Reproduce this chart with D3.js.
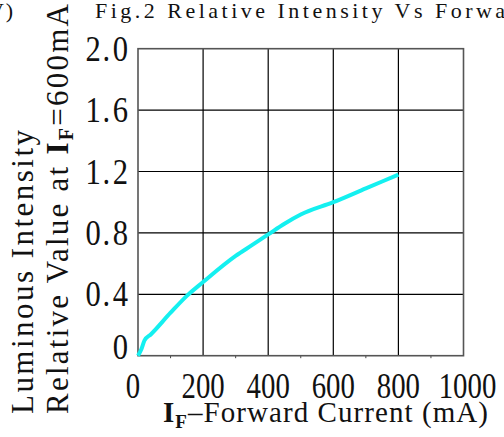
<!DOCTYPE html>
<html>
<head>
<meta charset="utf-8">
<script src="https://cdn.jsdelivr.net/npm/d3@7"></script>
<style>
  html, body { margin: 0; padding: 0; background: #fff; }
  svg { display: block; }
</style>
</head>
<body>
<div id="chart"></div>
<script>
// data
var current = [0, 10, 20, 40, 100, 150, 200, 300, 350, 400, 450, 500, 600, 700, 800];
var intensity = [0, 0.04, 0.1, 0.14, 0.28, 0.39, 0.48, 0.65, 0.72, 0.79, 0.86, 0.92, 1.0, 1.09, 1.18];
var xTicks = [0, 200, 400, 600, 800, 1000];
var xMinorTicks = [100, 300, 500, 700, 900];
var yTicks = [0, 0.4, 0.8, 1.2, 1.6, 2.0];
var yTickLabels = ["0", "0.4", "0.8", "1.2", "1.6", "2.0"];

var width = 504, height = 437;
var svg = d3.select("#chart").append("svg")
  .attr("width", width).attr("height", height);

var x = d3.scaleLinear().domain([0, 1000]).range([138, 463.5]);
var y = d3.scaleLinear().domain([0, 2]).range([355.7, 48.7]);

var serif = "'Liberation Serif', 'Times New Roman', serif";

// grid
var g = svg.append("g");
g.selectAll(".vgrid").data(xTicks.slice(1, -1)).enter().append("line")
  .attr("x1", d => x(d)).attr("x2", d => x(d))
  .attr("y1", y(0)).attr("y2", y(2))
  .attr("stroke", "#000").attr("stroke-width", 1.2);
g.selectAll(".hgrid").data(yTicks.slice(1, -1)).enter().append("line")
  .attr("x1", x(0)).attr("x2", x(1000))
  .attr("y1", d => y(d)).attr("y2", d => y(d))
  .attr("stroke", "#000").attr("stroke-width", 1.2);
g.selectAll(".minor").data(xMinorTicks).enter().append("line")
  .attr("x1", d => x(d)).attr("x2", d => x(d))
  .attr("y1", y(0)).attr("y2", y(0) + 2.5)
  .attr("stroke", "#444").attr("stroke-width", 1);
g.append("rect")
  .attr("x", x(0)).attr("y", y(2))
  .attr("width", x(1000) - x(0)).attr("height", y(0) - y(2))
  .attr("fill", "none").attr("stroke", "#555").attr("stroke-width", 1.6);

// curve
var line = d3.line()
  .x((d, i) => x(current[i]))
  .y(d => y(d))
  .curve(d3.curveMonotoneX);
svg.append("path")
  .datum(intensity)
  .attr("d", line)
  .attr("fill", "none")
  .attr("stroke", "#14f0f0")
  .attr("stroke-width", 4);

// tick labels, Times-like digits squeezed a little
function tickLabel(sel, anchor) {
  return sel.append("text")
    .attr("font-family", serif).attr("font-size", 36)
    .attr("text-anchor", anchor).attr("fill", "#111");
}
svg.selectAll(".ylab").data(yTicks).enter().append("g")
  .attr("transform", d => "translate(128," + (y(d) + 12 - (d === 0 ? 9 : 0)) + ") scale(0.85,1)")
  .each(function(d, i) {
    var parts = yTickLabels[i].split(".");
    var t = tickLabel(d3.select(this), "end");
    t.append("tspan").text(parts[0]);
    if (parts.length > 1) {
      t.append("tspan").attr("dx", 2).text(".");
      t.append("tspan").attr("dx", 3).text(parts[1]);
    }
  });
svg.selectAll(".xlab").data(xTicks).enter().append("g")
  .attr("transform", d => "translate(" + (x(d) - (d === 0 ? 5 : 0) + (d === 1000 ? 4 : 0)) + ",398) scale(0.8,1)")
  .each(function(d) {
    tickLabel(d3.select(this), "middle").text(d);
  });

// the original text face is fixed-pitch, so stretch spacing to its width
function wideText(parent, px, py, len, size) {
  return parent.append("text")
    .attr("x", px).attr("y", py)
    .attr("font-family", serif).attr("font-size", size).attr("fill", "#111")
    .attr("textLength", len).attr("lengthAdjust", "spacing");
}

// title (runs off the right edge like the original)
wideText(svg, 95, 18, 536, 22).text("Fig.2 Relative Intensity Vs Forward Current");
wideText(svg, -21, 18, 34, 22).text("(V)");

// y axis title, two lines (rotated, read bottom to top)
var yl = svg.append("g").attr("transform", "rotate(-90)");
wideText(yl, -414, 33, 284, 31).text("Luminous Intensity");
var y2 = wideText(yl, -414, 68, 410, 31);
y2.append("tspan").text("Relative Value at ");
y2.append("tspan").attr("font-weight", "bold").text("I");
y2.append("tspan").attr("font-weight", "bold").attr("font-size", 20).attr("dy", 5).text("F");
y2.append("tspan").attr("dy", -5).text("=600mA");

// x axis title
var xt = wideText(svg, 163, 422, 325, 29);
xt.append("tspan").attr("font-weight", "bold").text("I");
xt.append("tspan").attr("font-weight", "bold").attr("font-size", 19).attr("dy", 6).text("F");
xt.append("tspan").attr("dy", -6).text("\u2013Forward Current (mA)");
</script>
</body>
</html>
